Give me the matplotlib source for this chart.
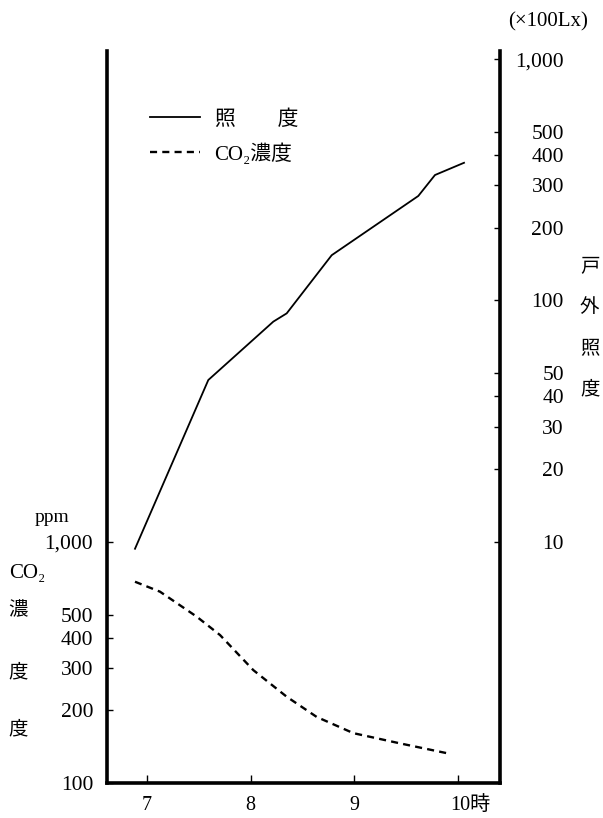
import matplotlib
matplotlib.use("Agg")
import matplotlib.pyplot as plt
from matplotlib.lines import Line2D
from matplotlib.ticker import FixedLocator, NullLocator
from matplotlib.transforms import ScaledTranslation

plt.rcParams['font.family'] = ['Liberation Serif', 'DejaVu Serif', 'Noto Sans CJK JP']

# illuminance (x100 Lx), right axis
lux_time = [6.884, 7.591, 8.218, 8.347, 8.781, 9.616, 9.777, 10.057]
lux_vals = [9.35, 46.8, 81.7, 88.4, 154, 271, 331, 372]

# CO2 concentration (ppm), left axis
co2_time = [6.884, 7.125, 7.479, 7.704, 8.025, 8.347, 8.636, 8.99, 9.44, 9.89]
co2_vals = [684, 622, 490, 411, 294, 228, 188, 161, 146, 133]

x_ticks = [7, 8, 9, 10]
x_labels = ['7', '8', '9', '10時']
co2_ticks = [100, 200, 300, 400, 500, 1000]
co2_labels = ['100', '200', '300', '400', '500', '1,000']
lux_ticks = [10, 20, 30, 40, 50, 100, 200, 300, 400, 500, 1000]
lux_labels = ['10', '20', '30', '40', '50', '100', '200', '300', '400', '500', '1,000']

W, H = 603, 818


def fx(px):
    return px / W


def fy(py):
    return 1 - py / H


fig = plt.figure(figsize=(W / 100, H / 100), dpi=100)
ax = fig.add_axes([fx(107), fy(783), (500 - 107) / W, (783 - 51) / H])
ax2 = ax.twinx()

ax.set_xlim(6.614, 10.404)
ax.set_yscale('log')
ax.set_ylim(100, 108900)
ax2.set_yscale('log')
ax2.set_ylim(1.0, 1081)

ax.plot(co2_time, co2_vals, color='black', lw=1.7, linestyle=(0, (3.0, 2.2)))
ax2.plot(lux_time, lux_vals, color='black', lw=1.3)

# spines
for a in (ax, ax2):
    a.spines['top'].set_visible(False)
ax.spines['right'].set_visible(False)
ax2.spines['left'].set_visible(False)
ax2.spines['bottom'].set_visible(False)
ax.spines['left'].set_linewidth(2.6)
ax.spines['bottom'].set_linewidth(2.6)
ax2.spines['right'].set_linewidth(2.6)

# ticks
ax.set_xticks(x_ticks)
ax.set_xticklabels(x_labels)
ax.tick_params(axis='x', direction='in', length=6, width=1, pad=9, labelsize=14.5)
lab10 = ax.get_xticklabels()[-1]
lab10.set_transform(lab10.get_transform() + ScaledTranslation(9 / 72, 0, fig.dpi_scale_trans))

ax.yaxis.set_major_locator(FixedLocator(co2_ticks))
ax.yaxis.set_minor_locator(NullLocator())
ax.set_yticklabels(co2_labels)
ax.tick_params(axis='y', direction='in', length=4, width=1, pad=10, labelsize=15.5)

ax2.yaxis.set_major_locator(FixedLocator(lux_ticks))
ax2.yaxis.set_minor_locator(NullLocator())
ax2.set_yticklabels(lux_labels)
ax2.tick_params(axis='y', direction='in', length=4, width=1, pad=46, labelsize=15.5)
for lab in ax2.get_yticklabels():
    lab.set_horizontalalignment('right')

# legend
handles = [Line2D([], [], color='black', lw=1.3),
           Line2D([], [], color='black', lw=1.7, linestyle=(0, (3.0, 2.2)))]
ax2.legend(handles, ['照\u3000\u3000度', 'CO₂濃度'], loc='upper left',
           bbox_to_anchor=((150 - 107) / 393, (783 - 110) / 732),
           frameon=False, borderpad=0, borderaxespad=0, fontsize=15,
           handlelength=2.4, handletextpad=0.7, labelspacing=0.65)

# axis captions
fig.text(fx(35), fy(518), 'ppm', fontsize=14, va='center', ha='left')
fig.text(fx(9), fy(573), 'CO₂', fontsize=15, va='center', ha='left')
for ch, py in [('濃', 610), ('度', 673), ('度', 730)]:
    fig.text(fx(8), fy(py), ch, fontsize=14, va='center', ha='left')

fig.text(fx(508), fy(22), '(×100Lx)', fontsize=15, va='center', ha='left')
for ch, py in [('戸', 268), ('外', 307), ('照', 350), ('度', 390)]:
    fig.text(fx(580), fy(py), ch, fontsize=14, va='center', ha='left')

fig.savefig('out.png', dpi=100)
